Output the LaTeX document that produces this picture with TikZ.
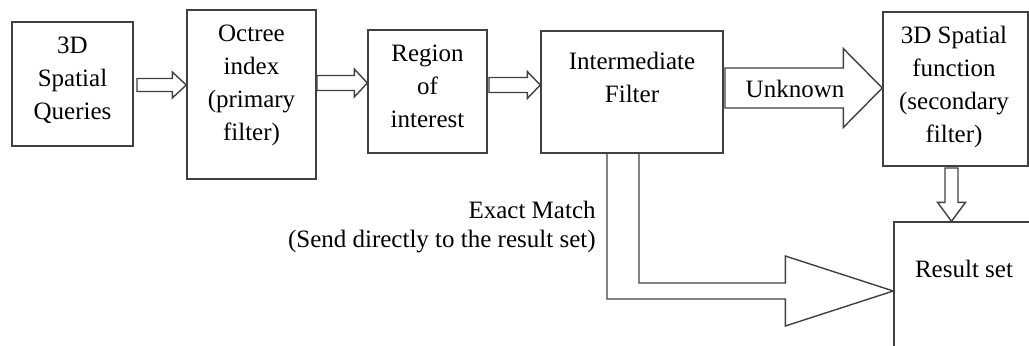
\documentclass[tikz,border=0pt]{standalone}
\usepackage{fontspec}
\setmainfont{Liberation Serif}
\usepackage{tikz}
\usetikzlibrary{calc}

\tikzset{
	box/.style={draw=black!75, line width=.7pt, inner sep=0pt},
	txt/.style={align=center, inner sep=0pt, font=\fontsize{12.5}{16.5}\selectfont},
	hollow/.style={draw=black!75, line width=.7pt, line join=miter},
}

% block arrows: start, target, half shaft, half head, head length
\newcommand{\harrow}[5]{%
	\draw[hollow] ($(#1)+(0,#3)$) -- ($(#1-|#2)+(-#5,#3)$) -- ($(#1-|#2)+(-#5,#4)$) -- (#1-|#2)
		-- ($(#1-|#2)+(-#5,-#4)$) -- ($(#1-|#2)+(-#5,-#3)$) -- ($(#1)+(0,-#3)$) -- cycle;
}
\newcommand{\varrow}[5]{%
	\draw[hollow] ($(#1)+(#3,0)$) -- ($(#1|-#2)+(#3,-#5)$) -- ($(#1|-#2)+(#4,-#5)$) -- (#1|-#2)
		-- ($(#1|-#2)+(-#4,-#5)$) -- ($(#1|-#2)+(-#3,-#5)$) -- ($(#1)+(-#3,0)$) -- cycle;
}

\begin{document}
\begin{tikzpicture}[x=.5pt, y=-.5pt]
	\useasboundingbox (0,0) rectangle (1029,345);
	\clip (0,0) rectangle (1029,345);

	\node[box, minimum width=60.5pt, minimum height=62pt] (qry) at (72.5,84) {};
	\node[box, minimum width=64.5pt, minimum height=84.5pt] (oct) at (251.5,94.5) {};
	\node[box, minimum width=59.5pt, minimum height=61.5pt] (roi) at (427.5,91.5) {};
	\node[box, minimum width=91pt, minimum height=61pt] (filt) at (632,92) {};
	\node[box, minimum width=72.5pt, minimum height=77pt] (sec) at (955.5,89) {};
	\node[box, minimum width=73pt, minimum height=69pt] (res) at (967,291) {};

	\coordinate (a1) at (137,85);
	\coordinate (a2) at (317,83);
	\coordinate (a3) at (489,85);
	\coordinate (a4) at (725,88);
	\coordinate (a5) at (951.5,168);
	\harrow{a1}{oct.west}{6.5}{13}{14}
	\harrow{a2}{roi.west}{7.5}{14}{13}
	\harrow{a3}{filt.west}{7.5}{13.5}{13}
	\harrow{a4}{sec.west}{20}{39.5}{39}
	\varrow{a5}{res.north}{6.5}{14}{19}

	% exact matches go straight down and over to the result set
	\draw[hollow] ($(filt.south)+(-25,0)$) |- ($(res.west)+(-108,8)$) -- ++(0,27) -- (res.west)
		-- ++(-108,-35) -- ++(0,27) -| ($(filt.south)+(7,0)$);

	\node[txt] (qry-t) at (72.5,80) {3D\\Spatial\\Queries};
	\node[txt] (oct-t) at (251.5,85) {Octree\\index\\(primary\\filter)};
	\node[txt] (roi-t) at (427.5,86) {Region\\of\\interest};
	\node[txt] (filt-t) at (632,77) {Intermediate\\Filter};
	\node[txt] (sec-t) at (954,86.5) {3D Spatial\\function\\(secondary\\filter)};
	\node[txt] (res-t) at (964,269) {Result set};
	\node[txt] (unk) at (795,89) {Unknown};
	\node[txt, align=right, anchor=east, font=\fontsize{12.5}{14.5}\selectfont] (exact) at (596,227) {Exact Match\\(Send directly to the result set)};
\end{tikzpicture}
\end{document}
